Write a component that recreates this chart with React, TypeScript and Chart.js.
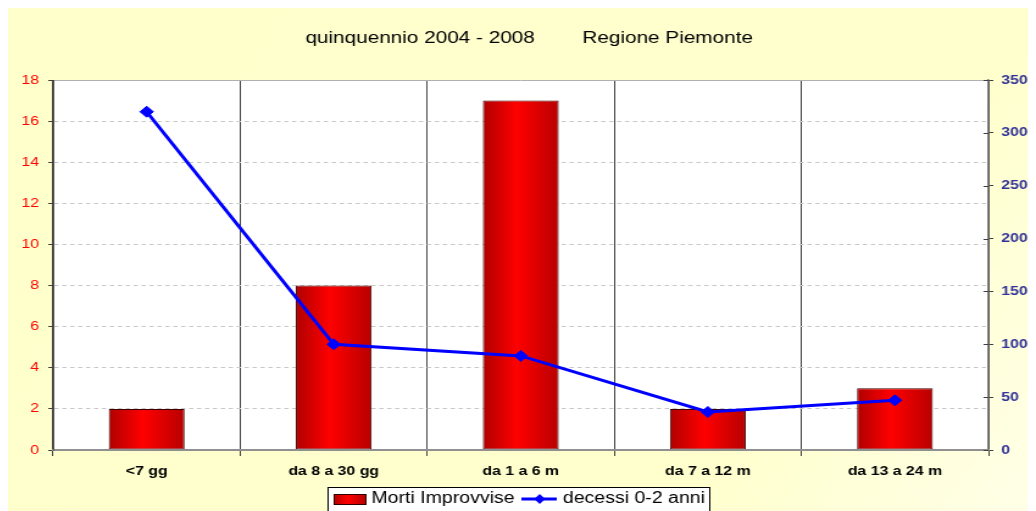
import React, { useEffect, useRef } from "react";
import { Chart, registerables } from "chart.js";

Chart.register(...registerables);

const categories = ["<7 gg", "da 8 a 30 gg", "da 1 a 6 m", "da 7 a 12 m", "da 13 a 24 m"];
const mortiImprovvise = [2, 8, 17, 2, 3];
const decessi02 = [320, 100, 89, 36, 47];
const leftTicks = { min: 0, max: 18, step: 2 };
const rightTicks = { min: 0, max: 350, step: 50 };
const titleLeft = "quinquennio 2004 - 2008";
const titleRight = "Regione Piemonte";
const legendBar = "Morti Improvvise";
const legendLine = "decessi 0-2 anni";

const STRETCH = 1.22;
const CSS_W = 1028;
const CSS_H = 503;
const CW = Math.round(CSS_W / STRETCH);
const CH = CSS_H;
const FONT = '"Liberation Sans", Arial, sans-serif';
const BAR_PCT = 0.405;

const decorPlugin = {
  id: "decor",
  beforeDraw(chart: any) {
    const { ctx, chartArea: a, width, height } = chart;
    ctx.save();
    const g = ctx.createLinearGradient(0, 0, width, height);
    g.addColorStop(0, "#FFFFCC");
    g.addColorStop(0.75, "#FFFFCE");
    g.addColorStop(1, "#FFFFE8");
    ctx.fillStyle = g;
    ctx.fillRect(0, 0, width, height);
    ctx.fillStyle = "#FFFFFF";
    ctx.fillRect(a.left, a.top, a.right - a.left, a.bottom - a.top);
    ctx.restore();
  },
  afterDraw(chart: any) {
    const { ctx, chartArea: a } = chart;
    ctx.save();
    ctx.setLineDash([]);
    // top edge of plot area
    ctx.strokeStyle = "#B0B0B0";
    ctx.lineWidth = 1;
    ctx.beginPath();
    ctx.moveTo(a.left, Math.round(a.top) + 0.5);
    ctx.lineTo(a.right, Math.round(a.top) + 0.5);
    ctx.stroke();
    // solid left axis line
    ctx.strokeStyle = "#505050";
    ctx.beginPath();
    ctx.moveTo(Math.round(a.left) + 0.5, a.top);
    ctx.lineTo(Math.round(a.left) + 0.5, a.bottom);
    ctx.stroke();
    // right axis inward tick marks
    const y1 = chart.scales.y1;
    ctx.strokeStyle = "#404040";
    y1.ticks.forEach((t: any) => {
      const py = Math.round(y1.getPixelForValue(t.value)) + 0.5;
      ctx.beginPath();
      ctx.moveTo(a.right - 4, py);
      ctx.lineTo(a.right, py);
      ctx.stroke();
    });
    // title
    ctx.fillStyle = "#000000";
    ctx.font = `17px ${FONT}`;
    ctx.textBaseline = "middle";
    ctx.textAlign = "right";
    ctx.fillText(titleLeft, 432, 30);
    ctx.textAlign = "left";
    ctx.fillText(titleRight, 471, 30);
    // legend
    const bx = 262.5, by = 479.5, bw = 313, bh = 30;
    ctx.fillStyle = "#FFFFFF";
    ctx.fillRect(bx, by, bw, bh);
    ctx.strokeStyle = "#000000";
    ctx.lineWidth = 1;
    ctx.strokeRect(bx, by, bw, bh);
    const ly = 491;
    const rg = ctx.createLinearGradient(267, 0, 293, 0);
    rg.addColorStop(0, "#B00000");
    rg.addColorStop(0.45, "#FF0000");
    rg.addColorStop(1, "#B80000");
    ctx.fillStyle = rg;
    ctx.fillRect(267, 486, 26, 10);
    ctx.strokeStyle = "#300000";
    ctx.strokeRect(267.5, 486.5, 26, 10);
    ctx.fillStyle = "#000000";
    ctx.font = `16px ${FONT}`;
    ctx.textAlign = "left";
    ctx.textBaseline = "middle";
    ctx.fillText(legendBar, 298, ly);
    ctx.strokeStyle = "#0000FF";
    ctx.lineWidth = 3;
    ctx.beginPath();
    ctx.moveTo(421, ly);
    ctx.lineTo(450, ly);
    ctx.stroke();
    ctx.fillStyle = "#0000FF";
    ctx.beginPath();
    ctx.moveTo(436 - 4.5, ly);
    ctx.lineTo(436, ly - 5);
    ctx.lineTo(436 + 4.5, ly);
    ctx.lineTo(436, ly + 5);
    ctx.closePath();
    ctx.fill();
    ctx.fillStyle = "#000000";
    ctx.fillText(legendLine, 455, ly);
    ctx.restore();
  },
};

function barGradient(c: any) {
  const chart = c.chart;
  const xs = chart.scales && chart.scales.x;
  if (!xs || c.type !== "data" || !chart.chartArea) return "#E00000";
  const cx = xs.getPixelForValue(c.dataIndex);
  const w = (xs.width / categories.length) * BAR_PCT;
  const g = chart.ctx.createLinearGradient(cx - w / 2, 0, cx + w / 2, 0);
  g.addColorStop(0, "#B00000");
  g.addColorStop(0.45, "#FF0000");
  g.addColorStop(1, "#B80000");
  return g;
}

export default function App() {
  const ref = useRef<HTMLCanvasElement | null>(null);
  useEffect(() => {
    document.documentElement.style.overflow = "hidden";
    document.body.style.overflow = "hidden";
    const canvas = ref.current!;
    const chart = new Chart(canvas, {
      type: "bar",
      data: {
        labels: categories,
        datasets: [
          {
            type: "line",
            label: legendLine,
            data: decessi02,
            yAxisID: "y1",
            borderColor: "#0000FF",
            backgroundColor: "#0000FF",
            borderWidth: 3,
            pointStyle: "rectRot",
            pointRadius: 5.5,
            pointBorderWidth: 1,
            pointBackgroundColor: "#0000FF",
            pointBorderColor: "#0000FF",
            tension: 0,
            order: 1,
          } as any,
          {
            type: "bar",
            label: legendBar,
            data: mortiImprovvise,
            yAxisID: "y",
            backgroundColor: barGradient,
            borderColor: "#400000",
            borderWidth: 1,
            borderSkipped: false,
            categoryPercentage: 1,
            barPercentage: BAR_PCT,
            order: 2,
          } as any,
        ],
      },
      options: {
        responsive: false,
        animation: false,
        devicePixelRatio: 1,
        layout: { padding: { top: 72, left: 0, right: 0, bottom: 0 } },
        plugins: {
          legend: { display: false },
          title: { display: false },
          tooltip: { enabled: false },
        },
        scales: {
          x: {
            offset: true,
            grid: {
              offset: true,
              color: "#404040",
              lineWidth: 1,
              tickLength: 6,
              tickColor: "#404040",
            },
            border: { color: "#909090", width: 2, z: 1 },
            ticks: {
              color: "#000000",
              font: { family: FONT, size: 13, weight: "bold" },
              padding: 8,
              maxRotation: 0,
              autoSkip: false,
            },
            afterFit(s: any) {
              s.height = 61;
            },
          },
          y: {
            position: "left",
            min: leftTicks.min,
            max: leftTicks.max,
            ticks: {
              stepSize: leftTicks.step,
              color: "#FF0000",
              font: { family: FONT, size: 13 },
              padding: 7.5,
            },
            grid: {
              color: "#C8C8C8",
              lineWidth: 1,
              tickLength: 4,
              tickColor: "#404040",
              tickBorderDash: [],
            } as any,
            border: { color: "#606060", width: 1, dash: [3.5, 3], z: 1 } as any,
            afterFit(s: any) {
              s.width = 37;
            },
          },
          y1: {
            position: "right",
            min: rightTicks.min,
            max: rightTicks.max,
            ticks: {
              stepSize: rightTicks.step,
              color: "#333399",
              font: { family: FONT, size: 13, weight: "bold" },
              padding: 6.5,
            },
            grid: {
              drawOnChartArea: false,
              tickLength: 4,
              tickColor: "#404040",
            },
            border: { color: "#808080", width: 1.5, z: 1 },
            afterFit(s: any) {
              s.width = CW - Math.round(981 / STRETCH);
            },
          },
        },
      },
      plugins: [decorPlugin],
    });
    return () => chart.destroy();
  }, []);
  return (
    <canvas
      ref={ref}
      width={CW}
      height={CH}
      style={{ display: "block", width: CSS_W + "px", height: CSS_H + "px" }}
    />
  );
}
